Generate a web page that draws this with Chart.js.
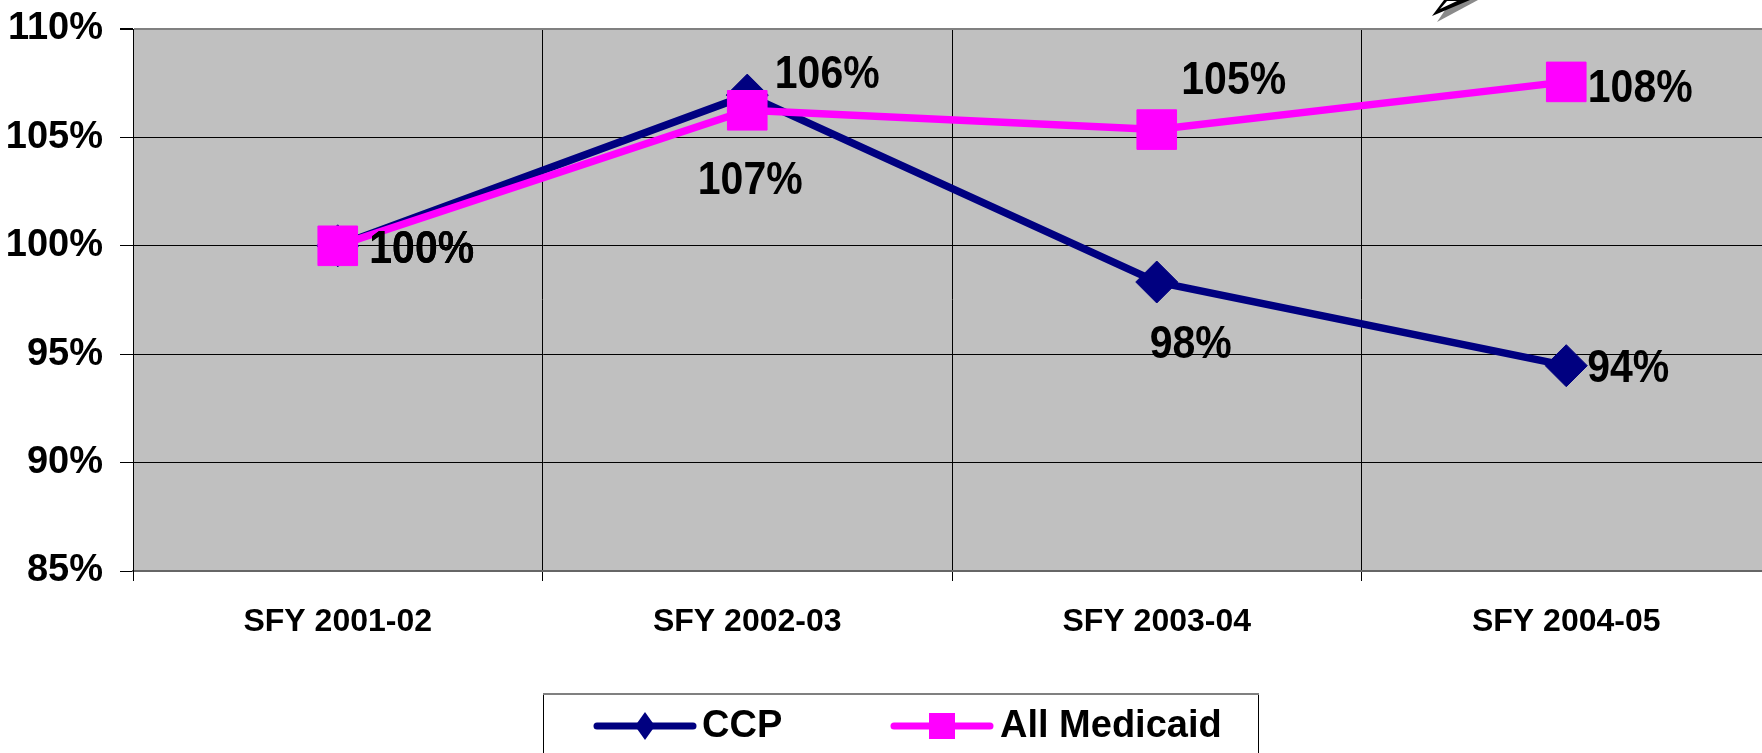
<!DOCTYPE html>
<html>
<head>
<meta charset="utf-8">
<script src="https://cdn.jsdelivr.net/npm/chart.js@4.4.1/dist/chart.umd.min.js"></script>
<style>
  html, body { margin: 0; padding: 0; background: #fff; overflow: hidden; }
  #wrap { position: relative; width: 1800px; height: 753px; }
</style>
</head>
<body>
<div id="wrap"><canvas id="growthChart" width="1800" height="753"></canvas></div>
<script>
const years = ['SFY 2001-02', 'SFY 2002-03', 'SFY 2003-04', 'SFY 2004-05'];
const ccpValues = [100, 106.95, 98.33, 94.47];
const medicaidValues = [100, 106.25, 105.36, 107.56];
const yTicks = [85, 90, 95, 100, 105, 110];

// where each value label sits relative to its point (px)
const ccpLabelOffsets = [[84, 5], [3, 86], [34, 63], [62, 4]];
const medicaidLabelOffsets = [[84, 5], [80, -35], [77, -48], [74, 7]];

const FONT = "'Liberation Sans', Arial, sans-serif";
const NAVY = '#000080';
const PINK = '#FF00FF';

Chart.defaults.font.family = FONT;

const plotBackground = {
    id: 'plotBackground',
    beforeDraw(chart) {
        const { ctx, chartArea: a } = chart;
        ctx.save();
        ctx.fillStyle = '#C0C0C0';
        ctx.fillRect(a.left, a.top, a.right - a.left, a.bottom - a.top);
        ctx.restore();
    }
};

const valueLabels = {
    id: 'valueLabels',
    afterDatasetsDraw(chart) {
        const ctx = chart.ctx;
        const sets = [[0, ccpLabelOffsets], [1, medicaidLabelOffsets]];
        ctx.save();
        ctx.fillStyle = '#000';
        ctx.font = 'bold 41px ' + FONT;
        ctx.textAlign = 'center';
        ctx.textBaseline = 'middle';
        sets.forEach(([di, offs]) => {
            const meta = chart.getDatasetMeta(di);
            const data = chart.data.datasets[di].data;
            meta.data.forEach((pt, i) => {
                ctx.save();
                ctx.translate(pt.x + offs[i][0], pt.y + offs[i][1]);
                ctx.scale(1, 1.12);
                ctx.fillText(Math.round(data[i]) + '%', 0, 0);
                ctx.restore();
            });
        });
        ctx.restore();
    }
};

const boxLegend = {
    id: 'boxLegend',
    afterDraw(chart) {
        const ctx = chart.ctx;
        ctx.save();
        // frame
        ctx.fillStyle = '#fff';
        ctx.fillRect(543.5, 694.5, 715, 80);
        ctx.strokeStyle = '#000';
        ctx.lineWidth = 1;
        ctx.strokeRect(543.5, 694.5, 715, 80);
        ctx.strokeStyle = '#808080';
        ctx.lineWidth = 2;
        ctx.beginPath();
        ctx.moveTo(543, 694);
        ctx.lineTo(1259, 694);
        ctx.stroke();

        const items = [
            { ds: 0, x0: 597, x1: 693, tx: 702 },
            { ds: 1, x0: 894, x1: 990, tx: 1000 }
        ];
        const y = 726;
        items.forEach(it => {
            const d = chart.data.datasets[it.ds];
            ctx.strokeStyle = d.borderColor;
            ctx.lineWidth = 7;
            ctx.lineCap = 'round';
            ctx.beginPath();
            ctx.moveTo(it.x0, y);
            ctx.lineTo(it.x1, y);
            ctx.stroke();
            const cx = (it.x0 + it.x1) / 2;
            ctx.fillStyle = d.borderColor;
            if (d.pointStyle === 'rectRot') {
                ctx.beginPath();
                ctx.moveTo(cx, y - 14);
                ctx.lineTo(cx + 10, y);
                ctx.lineTo(cx, y + 14);
                ctx.lineTo(cx - 10, y);
                ctx.closePath();
                ctx.fill();
            } else {
                ctx.fillRect(cx - 13, y - 13, 26, 26);
            }
            ctx.fillStyle = '#000';
            ctx.font = 'bold 38px ' + FONT;
            ctx.textAlign = 'left';
            ctx.textBaseline = 'middle';
            ctx.fillText(d.label, it.tx, y + 1);
        });

        // small arrow peeking in at the top
        ctx.fillStyle = '#8a8a8a';
        ctx.beginPath();
        ctx.moveTo(1437, 22);
        ctx.lineTo(1452, 0);
        ctx.lineTo(1478, 0);
        ctx.closePath();
        ctx.fill();
        ctx.fillStyle = '#000';
        ctx.beginPath();
        ctx.moveTo(1432, 16);
        ctx.lineTo(1444, 0);
        ctx.lineTo(1470, 0);
        ctx.closePath();
        ctx.fill();
        ctx.fillStyle = '#fff';
        ctx.beginPath();
        ctx.moveTo(1440, 9);
        ctx.lineTo(1447, 1);
        ctx.lineTo(1457, 1);
        ctx.closePath();
        ctx.fill();
        ctx.restore();
    }
};

new Chart(document.getElementById('growthChart'), {
    type: 'line',
    data: {
        labels: years,
        datasets: [{
            label: 'CCP',
            data: ccpValues,
            borderColor: NAVY,
            backgroundColor: NAVY,
            borderWidth: 7.5,
            pointStyle: 'rectRot',
            pointRadius: 21,
            pointBorderWidth: 1,
            pointBackgroundColor: NAVY,
            pointBorderColor: NAVY,
            tension: 0,
            order: 1
        }, {
            label: 'All Medicaid',
            data: medicaidValues,
            borderColor: PINK,
            backgroundColor: PINK,
            borderWidth: 7.5,
            pointStyle: 'rect',
            pointRadius: 28,
            pointBorderWidth: 1,
            pointBackgroundColor: PINK,
            pointBorderColor: PINK,
            tension: 0,
            order: 0
        }]
    },
    options: {
        responsive: false,
        devicePixelRatio: 1,
        animation: false,
        layout: { padding: { top: 27, right: 29, left: 0, bottom: 0 } },
        plugins: {
            legend: { display: false },
            tooltip: { enabled: false }
        },
        scales: {
            x: {
                offset: true,
                grid: {
                    offset: true,
                    color: '#000',
                    lineWidth: 1,
                    tickLength: 10,
                    tickColor: '#000'
                },
                border: { color: '#666', width: 2 },
                ticks: {
                    color: '#000',
                    padding: 22,
                    maxRotation: 0,
                    font: { size: 32, weight: 'bold' }
                },
                afterFit: s => {
                    s.height = 182;
                    s.paddingLeft = 0;
                    s.paddingRight = 0;
                }
            },
            y: {
                min: yTicks[0],
                max: yTicks[yTicks.length - 1],
                afterBuildTicks: s => { s.ticks = yTicks.map(v => ({ value: v })); },
                grid: {
                    color: c => (c.tick && c.tick.value === 110 ? '#808080' : '#000'),
                    lineWidth: c => (c.tick && c.tick.value === 110 ? 2 : 1),
                    tickLength: 13,
                    tickColor: '#000'
                },
                border: { color: '#000', width: 1 },
                ticks: {
                    color: '#000',
                    padding: 17,
                    font: { size: 38, weight: 'bold' },
                    callback: v => v + '%'
                },
                afterFit: s => {
                    s.width = 133;
                    s.paddingTop = 0;
                    s.paddingBottom = 0;
                }
            }
        }
    },
    plugins: [plotBackground, valueLabels, boxLegend]
});
</script>
</body>
</html>
